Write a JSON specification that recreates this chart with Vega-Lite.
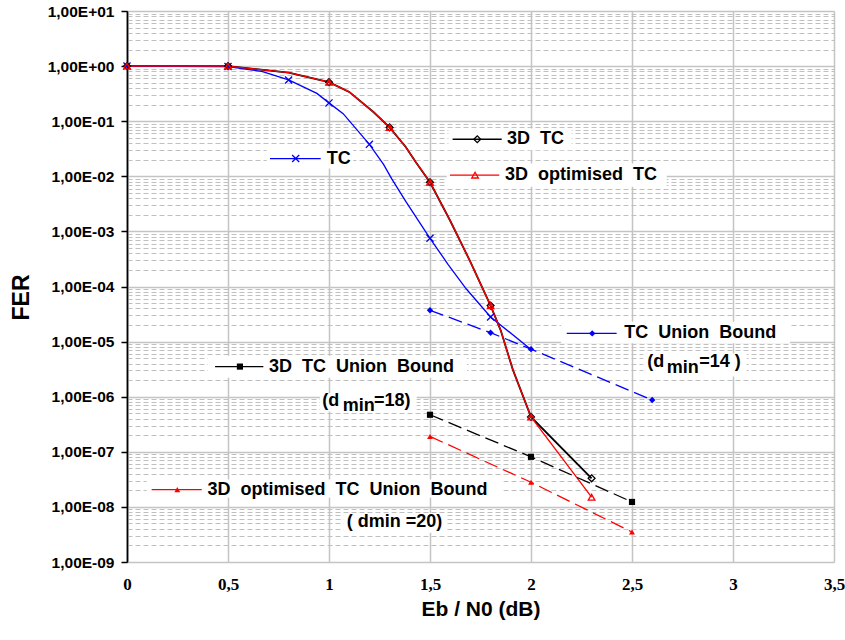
{
  "$schema": "https://vega.github.io/schema/vega-lite/v6.json",
  "width": 707,
  "height": 551,
  "autosize": "none",
  "padding": {"left": 127, "top": 11, "right": 11, "bottom": 78},
  "background": "white",
  "config": {"view": {"stroke": null}},
  "datasets": {
    "curves": [
      {"s": "TC", "x": 0, "fer": 1}, {"s": "TC", "x": 0.5, "fer": 0.98}, {"s": "TC", "x": 0.667, "fer": 0.8},
      {"s": "TC", "x": 0.8, "fer": 0.56}, {"s": "TC", "x": 0.94, "fer": 0.32}, {"s": "TC", "x": 1.0, "fer": 0.215},
      {"s": "TC", "x": 1.07, "fer": 0.137}, {"s": "TC", "x": 1.2, "fer": 0.038}, {"s": "TC", "x": 1.27, "fer": 0.0164},
      {"s": "TC", "x": 1.31, "fer": 0.0091}, {"s": "TC", "x": 1.38, "fer": 0.0035}, {"s": "TC", "x": 1.5, "fer": 0.00075},
      {"s": "TC", "x": 1.59, "fer": 0.00025}, {"s": "TC", "x": 1.68, "fer": 0.00009}, {"s": "TC", "x": 1.8, "fer": 0.000028},
      {"s": "TC", "x": 2.0, "fer": 0.0000072},
      {"s": "3D TC", "x": 0, "fer": 1}, {"s": "3D TC", "x": 0.5, "fer": 1}, {"s": "3D TC", "x": 0.8, "fer": 0.76},
      {"s": "3D TC", "x": 1.0, "fer": 0.51}, {"s": "3D TC", "x": 1.1, "fer": 0.34}, {"s": "3D TC", "x": 1.22, "fer": 0.147},
      {"s": "3D TC", "x": 1.3, "fer": 0.077}, {"s": "3D TC", "x": 1.38, "fer": 0.034}, {"s": "3D TC", "x": 1.43, "fer": 0.018},
      {"s": "3D TC", "x": 1.5, "fer": 0.0078}, {"s": "3D TC", "x": 1.6, "fer": 0.00156}, {"s": "3D TC", "x": 1.7, "fer": 0.00028},
      {"s": "3D TC", "x": 1.8, "fer": 0.000045}, {"s": "3D TC", "x": 1.85, "fer": 0.000016}, {"s": "3D TC", "x": 1.91, "fer": 0.0000031},
      {"s": "3D TC", "x": 2.0, "fer": 4.3e-7}, {"s": "3D TC", "x": 2.3, "fer": 3.3e-8},
      {"s": "3D optimised TC", "x": 0, "fer": 1}, {"s": "3D optimised TC", "x": 0.5, "fer": 1}, {"s": "3D optimised TC", "x": 0.8, "fer": 0.76},
      {"s": "3D optimised TC", "x": 1.0, "fer": 0.51}, {"s": "3D optimised TC", "x": 1.1, "fer": 0.34}, {"s": "3D optimised TC", "x": 1.22, "fer": 0.147},
      {"s": "3D optimised TC", "x": 1.3, "fer": 0.077}, {"s": "3D optimised TC", "x": 1.38, "fer": 0.034}, {"s": "3D optimised TC", "x": 1.43, "fer": 0.018},
      {"s": "3D optimised TC", "x": 1.5, "fer": 0.0078}, {"s": "3D optimised TC", "x": 1.6, "fer": 0.00156}, {"s": "3D optimised TC", "x": 1.7, "fer": 0.00028},
      {"s": "3D optimised TC", "x": 1.8, "fer": 0.000045}, {"s": "3D optimised TC", "x": 1.85, "fer": 0.000016}, {"s": "3D optimised TC", "x": 1.91, "fer": 0.0000031},
      {"s": "3D optimised TC", "x": 2.0, "fer": 4.3e-7}, {"s": "3D optimised TC", "x": 2.3, "fer": 1.5e-8}
    ],
    "marks": [
      {"s": "TC", "x": 0, "fer": 1}, {"s": "TC", "x": 0.5, "fer": 0.98}, {"s": "TC", "x": 0.8, "fer": 0.56},
      {"s": "TC", "x": 1.0, "fer": 0.215}, {"s": "TC", "x": 1.2, "fer": 0.038}, {"s": "TC", "x": 1.5, "fer": 0.00075},
      {"s": "TC", "x": 1.8, "fer": 0.000028},
      {"s": "3D TC", "x": 0, "fer": 1}, {"s": "3D TC", "x": 0.5, "fer": 1}, {"s": "3D TC", "x": 1.0, "fer": 0.51},
      {"s": "3D TC", "x": 1.3, "fer": 0.077}, {"s": "3D TC", "x": 1.5, "fer": 0.0078}, {"s": "3D TC", "x": 1.8, "fer": 0.000045},
      {"s": "3D TC", "x": 2.0, "fer": 4.3e-7}, {"s": "3D TC", "x": 2.3, "fer": 3.3e-8},
      {"s": "3D optimised TC", "x": 0, "fer": 1}, {"s": "3D optimised TC", "x": 0.5, "fer": 1}, {"s": "3D optimised TC", "x": 1.0, "fer": 0.51},
      {"s": "3D optimised TC", "x": 1.3, "fer": 0.077}, {"s": "3D optimised TC", "x": 1.5, "fer": 0.0078}, {"s": "3D optimised TC", "x": 1.8, "fer": 0.000045},
      {"s": "3D optimised TC", "x": 2.0, "fer": 4.3e-7}, {"s": "3D optimised TC", "x": 2.3, "fer": 1.5e-8}
    ],
    "bounds": [
      {"s": "TC Union Bound", "x": 1.5, "fer": 0.000037}, {"s": "TC Union Bound", "x": 1.8, "fer": 0.0000145},
      {"s": "TC Union Bound", "x": 2.0, "fer": 0.0000073}, {"s": "TC Union Bound", "x": 2.6, "fer": 8.7e-7},
      {"s": "3D TC Union Bound", "x": 1.5, "fer": 4.7e-7}, {"s": "3D TC Union Bound", "x": 2.0, "fer": 8.1e-8},
      {"s": "3D TC Union Bound", "x": 2.5, "fer": 1.23e-8},
      {"s": "3D optimised TC Union Bound", "x": 1.5, "fer": 1.9e-7}, {"s": "3D optimised TC Union Bound", "x": 2.0, "fer": 2.8e-8},
      {"s": "3D optimised TC Union Bound", "x": 2.5, "fer": 3.5e-9}
    ],
    "legend": [
      {"s": "TC", "x1": 0.708, "x2": 0.959, "y": 0.021, "mx": 0.835, "tx": 0.989, "label": "TC"},
      {"s": "3D TC", "x1": 1.612, "x2": 1.855, "y": 0.047, "mx": 1.734, "tx": 1.881, "label": "3D\u00a0 TC"},
      {"s": "3D optimised TC", "x1": 1.599, "x2": 1.843, "y": 0.0105, "mx": 1.723, "tx": 1.871, "label": "3D\u00a0 optimised\u00a0 TC"},
      {"s": "TC Union Bound", "x1": 2.177, "x2": 2.424, "y": 0.0000141, "mx": 2.303, "tx": 2.462, "label": "TC\u00a0 Union\u00a0 Bound"},
      {"s": "3D TC Union Bound", "x1": 0.436, "x2": 0.675, "y": 0.00000352, "mx": 0.559, "tx": 0.703, "label": "3D\u00a0 TC\u00a0 Union\u00a0 Bound"},
      {"s": "3D optimised TC Union Bound", "x1": 0.122, "x2": 0.37, "y": 2.06e-8, "mx": 0.249, "tx": 0.398, "label": "3D\u00a0 optimised\u00a0 TC\u00a0 Union\u00a0 Bound"}
    ],
    "notes": [
      {"t": "(d", "x": 2.576, "y": 0.00000427}, {"t": "min", "x": 2.672, "y": 0.00000334}, {"t": "=14 )", "x": 2.833, "y": 0.00000427},
      {"t": "(d", "x": 0.967, "y": 8.2e-7}, {"t": "min", "x": 1.068, "y": 6.64e-7}, {"t": "=18)", "x": 1.223, "y": 8.2e-7},
      {"t": "( dmin =20)", "x": 1.088, "y": 5.26e-9}
    ],
    "boxes": [
      {"x1": 0.692, "x2": 1.12, "y1": 0.0319, "y2": 0.01384},
      {"x1": 1.591, "x2": 2.201, "y1": 0.0735, "y2": 0.0297},
      {"x1": 1.583, "x2": 2.672, "y1": 0.01706, "y2": 0.00643},
      {"x1": 2.149, "x2": 3.282, "y1": 0.000023, "y2": 0.00000935},
      {"x1": 2.556, "x2": 3.068, "y1": 0.00000617, "y2": 0.00000232},
      {"x1": 0.401, "x2": 1.683, "y1": 0.00000551, "y2": 0.0000022},
      {"x1": 0.955, "x2": 1.434, "y1": 0.00000116, "y2": 5.4e-7},
      {"x1": 0.0975, "x2": 1.863, "y1": 3.13e-8, "y2": 1.46e-8},
      {"x1": 1.071, "x2": 1.574, "y1": 7.78e-9, "y2": 3.38e-9}
    ]
  },
  "layer": [
    {
      "data": {"name": "boxes"},
      "mark": {"type": "rect", "fill": "white"},
      "encoding": {
        "x": {"field": "x1", "type": "quantitative",
          "scale": {"domain": [0, 3.5], "nice": false, "zero": false},
          "axis": {"orient": "bottom", "values": [0, 0.5, 1, 1.5, 2, 2.5, 3, 3.5], "format": "~g",
            "labelExpr": "replace(datum.label, '.', ',')",
            "grid": true, "gridColor": {"condition": {"test": "datum.value === 0", "value": "black"}, "value": "#c4c4c4"}, "gridWidth": 1.5,
            "domain": false, "ticks": false,
            "labelFont": "Liberation Serif", "labelFontWeight": "bold", "labelFontSize": 17, "labelColor": "black",
            "labelPadding": 14, "labelFlush": false, "labelOverlap": false,
            "title": "Eb / N0 (dB)", "titleFont": "Liberation Sans", "titleFontWeight": "bold", "titleFontSize": 21,
            "titleColor": "black", "titleX": 353.5, "titleY": 47, "titleAlign": "center", "titleBaseline": "middle"}},
        "x2": {"field": "x2"},
        "y": {"field": "y1", "type": "quantitative",
          "scale": {"type": "log", "domain": [1e-9, 10], "nice": false},
          "axis": {"orient": "left", "values": [1e-9, 1e-8, 1e-7, 1e-6, 1e-5, 0.0001, 0.001, 0.01, 0.1, 1, 10],
            "labelExpr": "'1,00E' + (round(log(datum.value)/LN10) >= 0 ? '+' : '-') + (abs(round(log(datum.value)/LN10)) < 10 ? '0' : '') + abs(round(log(datum.value)/LN10))",
            "grid": true, "gridColor": "#c4c4c4", "gridWidth": 1.5,
            "domain": true, "domainColor": "black", "domainWidth": 1.5,
            "ticks": true, "tickColor": "black", "tickSize": 6, "tickWidth": 1.5,
            "labelFont": "Liberation Sans", "labelFontWeight": "bold", "labelFontSize": 15.5, "labelColor": "black", "labelPadding": 7,
            "title": "FER", "titleFont": "Liberation Sans", "titleFontWeight": "bold", "titleFontSize": 23, "titleColor": "black",
            "titleAngle": -90, "titleX": -106, "titleY": 286, "titleAlign": "center", "titleBaseline": "middle"}},
        "y2": {"field": "y2"}
      }
    },
    {
      "data": {"name": "curves"},
      "transform": [{"filter": "datum.s === '3D TC'"}],
      "mark": {"type": "line", "strokeWidth": 1.8},
      "encoding": {
        "x": {"field": "x", "type": "quantitative"},
        "y": {"field": "fer", "type": "quantitative",
          "axis": {"orient": "left", "values": [2e-9, 3e-9, 4e-9, 5e-9, 6e-9, 7e-9, 8e-9, 9e-9,
            2e-8, 3e-8, 4e-8, 5e-8, 6e-8, 7e-8, 8e-8, 9e-8,
            2e-7, 3e-7, 4e-7, 5e-7, 6e-7, 7e-7, 8e-7, 9e-7,
            2e-6, 3e-6, 4e-6, 5e-6, 6e-6, 7e-6, 8e-6, 9e-6,
            2e-5, 3e-5, 4e-5, 5e-5, 6e-5, 7e-5, 8e-5, 9e-5,
            0.0002, 0.0003, 0.0004, 0.0005, 0.0006, 0.0007, 0.0008, 0.0009,
            0.002, 0.003, 0.004, 0.005, 0.006, 0.007, 0.008, 0.009,
            0.02, 0.03, 0.04, 0.05, 0.06, 0.07, 0.08, 0.09,
            0.2, 0.3, 0.4, 0.5, 0.6, 0.7, 0.8, 0.9,
            2, 3, 4, 5, 6, 7, 8, 9],
            "grid": true, "gridDash": [5, 3], "gridColor": "#c0c0c0", "gridWidth": 1,
            "labels": false, "ticks": false, "domain": false, "title": null}},
        "color": {"field": "s", "type": "nominal", "legend": null,
          "scale": {"domain": ["TC", "3D TC", "3D optimised TC", "TC Union Bound", "3D TC Union Bound", "3D optimised TC Union Bound"],
            "range": ["#0000ff", "#000000", "#ff0000", "#0000ff", "#000000", "#ff0000"]}}
      }
    },
    {
      "data": {"name": "curves"},
      "transform": [{"filter": "datum.s !== '3D TC'"}],
      "mark": {"type": "line", "strokeWidth": 1.3},
      "encoding": {
        "x": {"field": "x", "type": "quantitative"},
        "y": {"field": "fer", "type": "quantitative", "axis": null},
        "color": {"field": "s", "type": "nominal", "legend": null}
      }
    },
    {
      "data": {"name": "bounds"},
      "mark": {"type": "line", "strokeWidth": 1.3, "strokeDash": [14, 6]},
      "encoding": {
        "x": {"field": "x", "type": "quantitative"},
        "y": {"field": "fer", "type": "quantitative", "axis": null},
        "color": {"field": "s", "type": "nominal", "legend": null}
      }
    },
    {
      "data": {"name": "marks"},
      "mark": {"type": "point", "filled": false, "strokeWidth": 1.3, "opacity": 1},
      "encoding": {
        "x": {"field": "x", "type": "quantitative"},
        "y": {"field": "fer", "type": "quantitative", "axis": null},
        "color": {"field": "s", "type": "nominal", "legend": null},
        "shape": {"field": "s", "type": "nominal", "legend": null,
          "scale": {"domain": ["TC", "3D TC", "3D optimised TC", "TC Union Bound", "3D TC Union Bound", "3D optimised TC Union Bound"],
            "range": ["M-1,-1L1,1M-1,1L1,-1", "diamond", "triangle-up", "diamond", "square", "triangle-up"]}},
        "size": {"field": "s", "type": "nominal", "legend": null,
          "scale": {"domain": ["TC", "3D TC", "3D optimised TC", "TC Union Bound", "3D TC Union Bound", "3D optimised TC Union Bound"],
            "range": [50, 35, 75, 55, 55, 65]}}
      }
    },
    {
      "data": {"name": "bounds"},
      "mark": {"type": "point", "filled": true, "opacity": 1},
      "encoding": {
        "x": {"field": "x", "type": "quantitative"},
        "y": {"field": "fer", "type": "quantitative", "axis": null},
        "color": {"field": "s", "type": "nominal", "legend": null},
        "shape": {"field": "s", "type": "nominal", "legend": null},
        "size": {"field": "s", "type": "nominal", "legend": null}
      }
    },
    {
      "data": {"name": "legend"},
      "mark": {"type": "rule", "strokeWidth": 1.3},
      "encoding": {
        "x": {"field": "x1", "type": "quantitative"},
        "x2": {"field": "x2"},
        "y": {"field": "y", "type": "quantitative", "axis": null},
        "color": {"field": "s", "type": "nominal", "legend": null}
      }
    },
    {
      "data": {"name": "legend"},
      "transform": [{"filter": {"field": "s", "oneOf": ["TC", "3D TC", "3D optimised TC"]}}],
      "mark": {"type": "point", "filled": false, "strokeWidth": 1.3, "opacity": 1},
      "encoding": {
        "x": {"field": "mx", "type": "quantitative"},
        "y": {"field": "y", "type": "quantitative", "axis": null},
        "color": {"field": "s", "type": "nominal", "legend": null},
        "shape": {"field": "s", "type": "nominal", "legend": null},
        "size": {"field": "s", "type": "nominal", "legend": null}
      }
    },
    {
      "data": {"name": "legend"},
      "transform": [{"filter": {"field": "s", "oneOf": ["TC Union Bound", "3D TC Union Bound", "3D optimised TC Union Bound"]}}],
      "mark": {"type": "point", "filled": true, "opacity": 1},
      "encoding": {
        "x": {"field": "mx", "type": "quantitative"},
        "y": {"field": "y", "type": "quantitative", "axis": null},
        "color": {"field": "s", "type": "nominal", "legend": null},
        "shape": {"field": "s", "type": "nominal", "legend": null},
        "size": {"field": "s", "type": "nominal", "legend": null}
      }
    },
    {
      "data": {"name": "legend"},
      "mark": {"type": "text", "align": "left", "baseline": "middle", "font": "Liberation Sans", "fontWeight": "bold", "fontSize": 18, "color": "black"},
      "encoding": {
        "x": {"field": "tx", "type": "quantitative"},
        "y": {"field": "y", "type": "quantitative", "axis": null},
        "text": {"field": "label"}
      }
    },
    {
      "data": {"name": "notes"},
      "mark": {"type": "text", "align": "left", "baseline": "middle", "font": "Liberation Sans", "fontWeight": "bold", "fontSize": 18, "color": "black"},
      "encoding": {
        "x": {"field": "x", "type": "quantitative"},
        "y": {"field": "y", "type": "quantitative", "axis": null},
        "text": {"field": "t"}
      }
    }
  ],
  "resolve": {"axis": {"y": "independent"}}
}
